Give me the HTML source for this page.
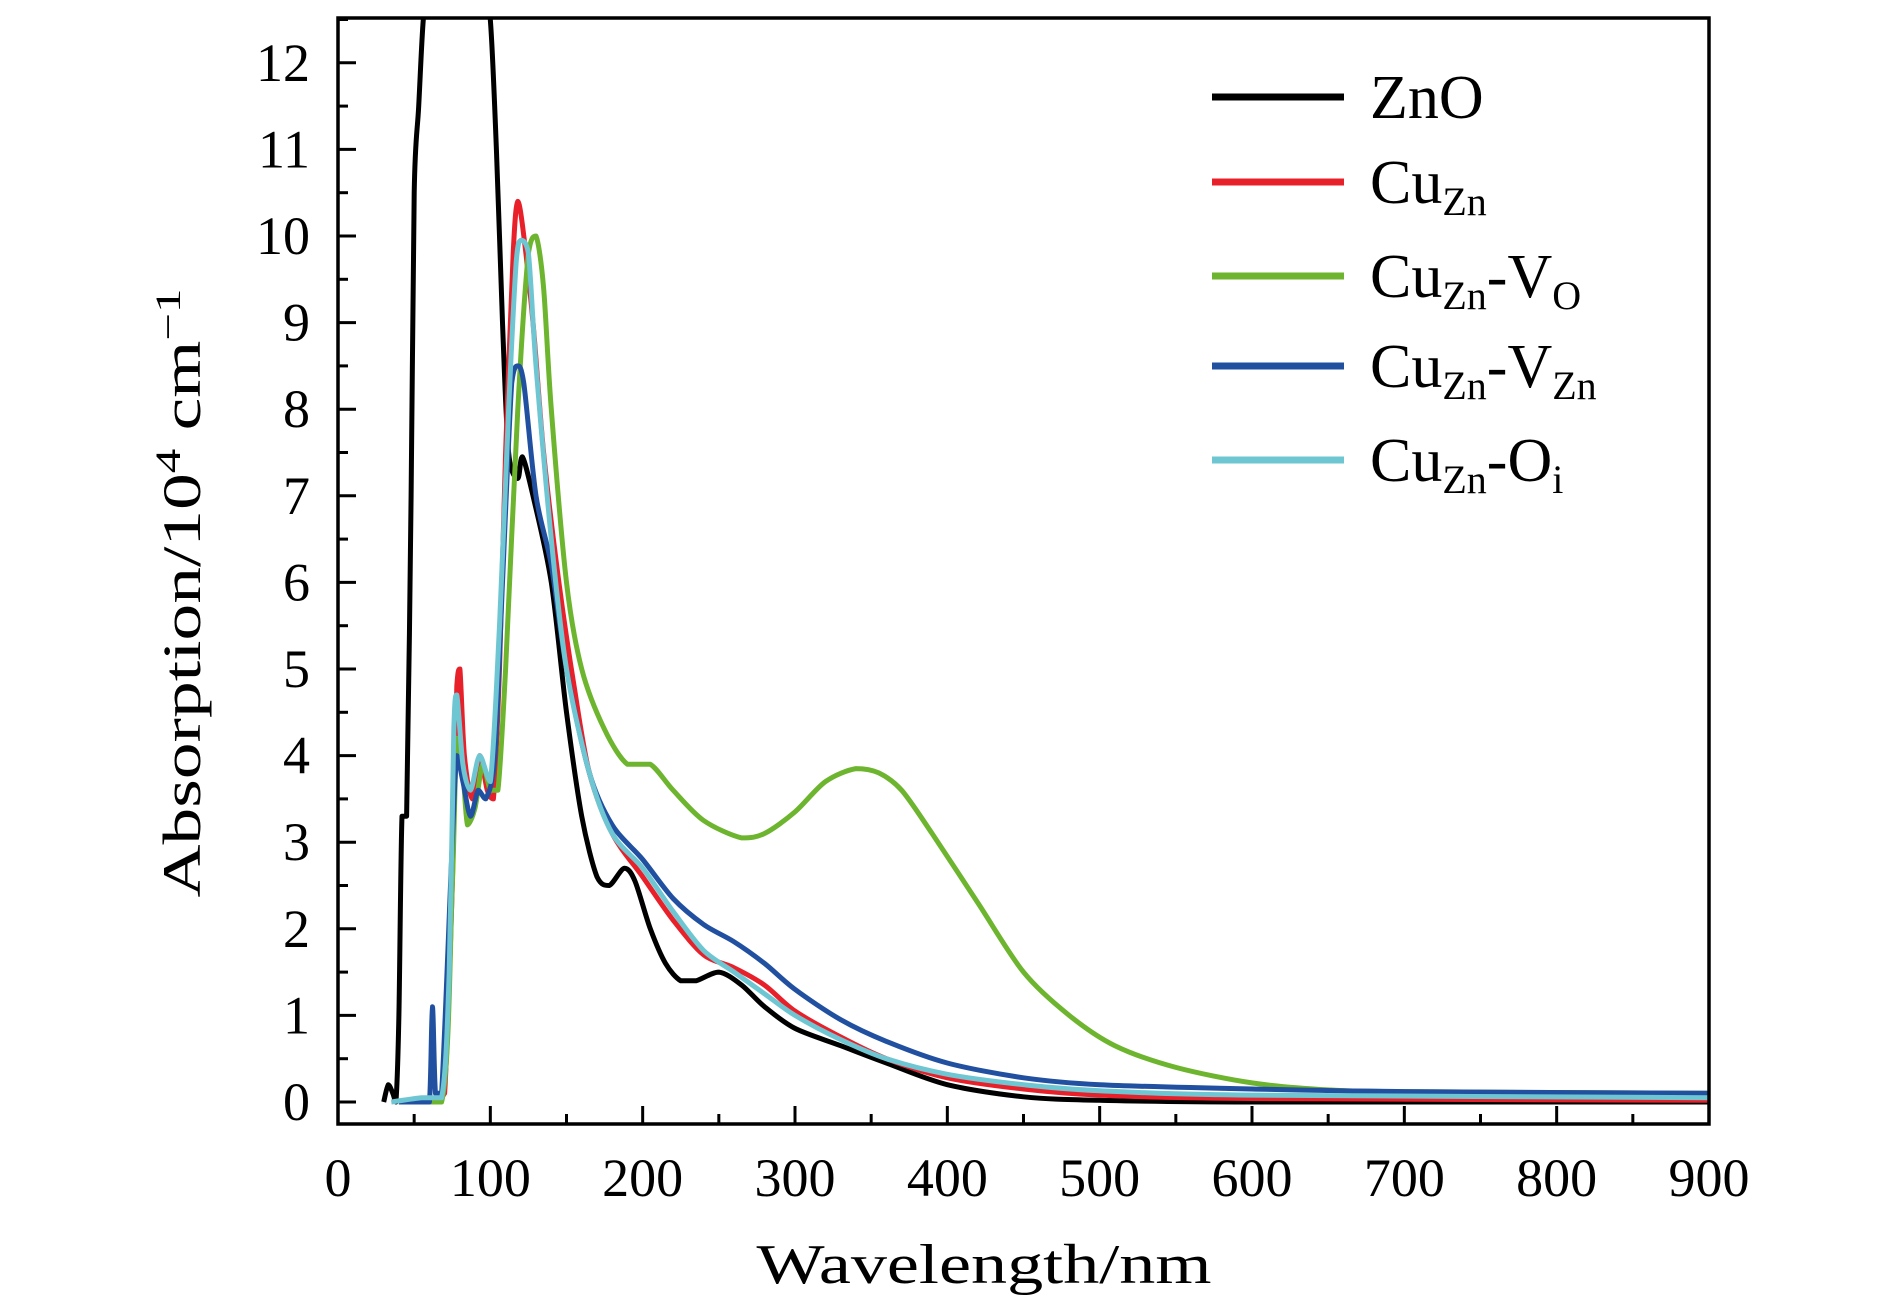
<!DOCTYPE html>
<html><head><meta charset="utf-8"><style>
body{margin:0;background:#fff}
svg{display:block}
text{font-family:"Liberation Serif","DejaVu Serif",serif;fill:#000}
</style></head><body>
<svg id="chart" width="1890" height="1300" viewBox="0 0 1890 1300" xmlns="http://www.w3.org/2000/svg">
<defs><clipPath id="clip"><rect x="338" y="18" width="1371" height="1106"/></clipPath></defs>
<g id="plot" clip-path="url(#clip)"></g>
<rect x="338" y="18" width="1371" height="1106" fill="none" stroke="#000" stroke-width="3.5"/>
<g id="axes"></g>
<text x="984" y="1283" font-size="56" text-anchor="middle" textLength="455" lengthAdjust="spacingAndGlyphs">Wavelength/nm</text>
<text transform="translate(200,593) rotate(-90)" font-size="54" text-anchor="middle" textLength="609" lengthAdjust="spacingAndGlyphs">Absorption/10<tspan font-size="36" dy="-20">4</tspan><tspan dy="20"> cm</tspan><tspan font-size="36" dy="-20">−1</tspan></text>
<g id="legend"></g>
</svg>
<script>
const xTicks=[0,100,200,300,400,500,600,700,800,900];
const yTicks=[0,1,2,3,4,5,6,7,8,9,10,11,12];
const znoX=[30,33,36,38,40,42,45,48,50,53,56,60,95,100,104,108,112,118,121,128,140,150,160,170,178,188,195,205,215,225,235,250,265,280,300,330,360,400,450,500,600,900];
const znoY=[0,0.2,0.1,0,1,3.3,3.3,7,10.5,11.5,12.5,13,13,12.5,11,9,7.5,7.2,7.45,7,6,4.5,3.3,2.6,2.5,2.7,2.55,2,1.6,1.4,1.4,1.5,1.35,1.1,0.85,0.65,0.45,0.2,0.06,0.02,0,0];
const cuX=[40,55,65,70,75,78,80,83,88,93,98,102,106,110,115,118,122,128,135,145,155,165,180,200,220,240,260,280,300,330,360,400,450,500,600,900];
const cuY=[0,0,0.05,0.1,2.5,4.8,5,4,3.5,4,3.6,3.5,5,7.5,9.8,10.4,10,9,7.5,6,4.8,3.8,3.1,2.6,2.1,1.7,1.55,1.35,1.05,0.75,0.5,0.28,0.15,0.08,0.04,0.02];
const voX=[40,68,75,78,82,85,90,95,100,105,110,118,125,130,135,140,150,160,175,190,205,220,240,265,280,300,320,340,355,370,390,420,450,480,510,550,600,650,700,900];
const voY=[0,0,2.5,4.2,3.8,3.2,3.4,3.9,3.6,3.6,5,8,9.8,10,9.4,8,6,5,4.3,3.9,3.9,3.6,3.25,3.05,3.1,3.35,3.7,3.85,3.8,3.6,3.1,2.3,1.5,1.0,0.65,0.4,0.22,0.14,0.12,0.1];
const vznX=[40,55,60,62,64,68,75,78,82,87,92,97,103,108,114,118,122,130,140,150,165,180,200,220,240,260,280,300,330,360,400,450,500,600,700,900];
const vznY=[0,0,0,1.1,0.1,0.1,3,4,3.7,3.3,3.6,3.5,4,6,8.3,8.5,8.3,7,6.2,5,3.8,3.2,2.8,2.35,2.05,1.85,1.6,1.3,0.95,0.7,0.45,0.28,0.2,0.15,0.12,0.1];
const oiX=[35,55,68,73,76,78,82,87,93,100,106,112,117,120,125,130,140,150,165,180,200,220,240,260,280,300,330,360,400,450,500,600,900];
const oiY=[0,0.05,0.05,1.5,4.3,4.7,3.9,3.6,4,3.7,5.5,8,9.7,9.95,9.8,8.5,6.5,5,3.8,3.1,2.7,2.2,1.75,1.5,1.25,1.0,0.72,0.5,0.32,0.2,0.13,0.08,0.05];
const NS="http://www.w3.org/2000/svg";
const X=v=>338+v*1371/900;
const Y=v=>1102-v*86.6;
const plot=document.getElementById('plot'),axes=document.getElementById('axes'),legend=document.getElementById('legend');
const series=[[znoX,znoY,"#000000","series-zno"],[cuX,cuY,"#e8202a","series-cuzn"],[voX,voY,"#6db52e","series-cuzn-vo"],[vznX,vznY,"#2150a0","series-cuzn-vzn"],[oiX,oiY,"#6ec6d3","series-cuzn-oi"]];
function clampY(y,a,b){return Math.min(Math.max(y,Math.min(a,b)),Math.max(a,b));}
function smooth(pts){
 let d='M'+pts[0][0].toFixed(1)+','+pts[0][1].toFixed(1);
 for(let i=0;i<pts.length-1;i++){
  const p0=pts[Math.max(0,i-1)],p1=pts[i],p2=pts[i+1],p3=pts[Math.min(pts.length-1,i+2)];
  const t=0.15;
  const c1=[p1[0]+(p2[0]-p0[0])*t,clampY(p1[1]+(p2[1]-p0[1])*t,p1[1],p2[1])];
  const c2=[p2[0]-(p3[0]-p1[0])*t,clampY(p2[1]-(p3[1]-p1[1])*t,p1[1],p2[1])];
  d+=' C'+c1[0].toFixed(1)+','+c1[1].toFixed(1)+' '+c2[0].toFixed(1)+','+c2[1].toFixed(1)+' '+p2[0].toFixed(1)+','+p2[1].toFixed(1);
 }
 return d;
}
for(const s of series){
 const p=document.createElementNS(NS,'path');
 p.setAttribute('d',smooth(s[0].map((x,i)=>[X(x),Y(s[1][i])])));
 p.setAttribute('fill','none');p.setAttribute('stroke',s[2]);p.setAttribute('stroke-width','5');p.setAttribute('stroke-linejoin','round');
 
 
 plot.appendChild(p);
}
function line(x1,y1,x2,y2,name){const l=document.createElementNS(NS,'line');l.setAttribute('x1',x1);l.setAttribute('y1',y1);l.setAttribute('x2',x2);l.setAttribute('y2',y2);l.setAttribute('stroke','#000');l.setAttribute('stroke-width','3');
 
 
 axes.appendChild(l);}
function text(x,y,t,anchor,name){const e=document.createElementNS(NS,'text');e.setAttribute('x',x);e.setAttribute('y',y);e.setAttribute('font-size','54');e.setAttribute('text-anchor',anchor);e.textContent=t;
 
 
 axes.appendChild(e);}
xTicks.forEach((t,i)=>{line(X(t),1124,X(t),1106,'x-tick');text(X(t),1196,String(t),'middle','x-tick-label');
 if(i<xTicks.length-1)line(X(t+50),1124,X(t+50),1114,'x-minor-tick');});
yTicks.forEach(t=>{line(338,Y(t),356,Y(t),'y-tick');text(310,Y(t)+18,String(t),'end','y-tick-label');
 if(Y(t+0.5)>18)line(338,Y(t+0.5),348,Y(t+0.5),'y-minor-tick');});
const legY=[97,182,276,366,460];
const legLabels=['ZnO','Cu<tspan font-size="40" dy="12">Zn</tspan>','Cu<tspan font-size="40" dy="12">Zn</tspan><tspan dy="-12">-V</tspan><tspan font-size="40" dy="12">O</tspan>','Cu<tspan font-size="40" dy="12">Zn</tspan><tspan dy="-12">-V</tspan><tspan font-size="40" dy="12">Zn</tspan>','Cu<tspan font-size="40" dy="12">Zn</tspan><tspan dy="-12">-O</tspan><tspan font-size="40" dy="12">i</tspan>'];
series.forEach((s,i)=>{
 const g=document.createElementNS(NS,'g');
 
 
 g.innerHTML='<line x1="1212" y1="'+legY[i]+'" x2="1344" y2="'+legY[i]+'" stroke="'+s[2]+'" stroke-width="7"/><text x="1370" y="'+(legY[i]+21)+'" font-size="62">'+legLabels[i]+'</text>';
 legend.appendChild(g);
});
</script>
</body></html>
